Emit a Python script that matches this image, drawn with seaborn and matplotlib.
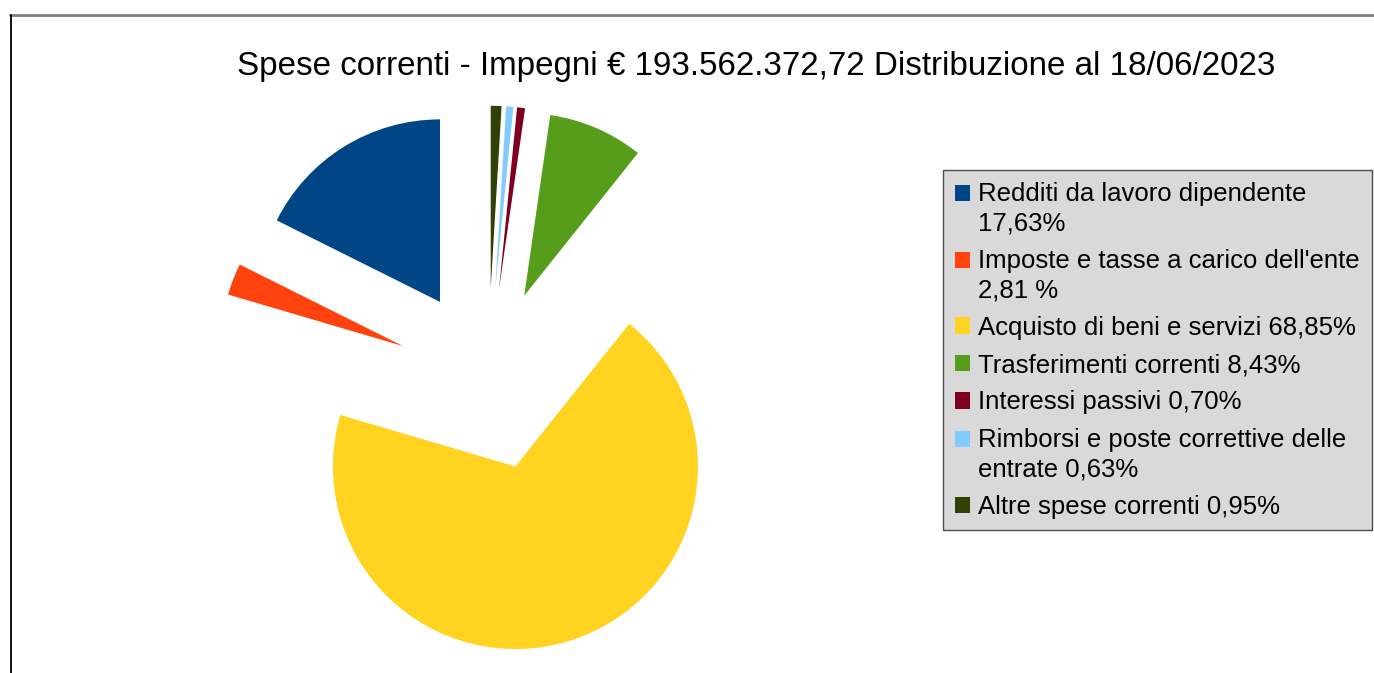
import matplotlib
matplotlib.use("Agg")
import matplotlib.pyplot as plt
import seaborn as sns
from matplotlib.patches import Patch, Rectangle
from matplotlib.lines import Line2D
from matplotlib.legend_handler import HandlerPatch

categories = [
    "Redditi da lavoro dipendente\n17,63%",
    "Imposte e tasse a carico dell'ente\n2,81 %",
    "Acquisto di beni e servizi 68,85%",
    "Trasferimenti correnti 8,43%",
    "Interessi passivi 0,70%",
    "Rimborsi e poste correttive delle\nentrate 0,63%",
    "Altre spese correnti 0,95%",
]
values = [17.63, 2.81, 68.85, 8.43, 0.70, 0.63, 0.95]
colors = ["#004586", "#ff420e", "#ffd320", "#579d1c", "#7e0021", "#83caff", "#314004"]
title = "Spese correnti - Impegni € 193.562.372,72 Distribuzione al 18/06/2023"

sns.set_theme(style="white")
plt.rcParams["font.family"] = ["Liberation Sans", "DejaVu Sans"]
plt.rcParams["text.color"] = "black"
palette = sns.color_palette(colors)

W, H = 1374, 673
fig = plt.figure(figsize=(W / 100, H / 100), dpi=100)
fig.patch.set_facecolor("white")
ax = fig.add_axes([0, 0, 1, 1])

R = 182.5
ax.pie(values, colors=palette, startangle=90, counterclock=True,
       radius=R, center=(488, H - 379.5), explode=[0.5 * R] * len(values),
       wedgeprops=dict(linewidth=0), frame=False)
ax.set_xlim(0, W)
ax.set_ylim(0, H)
ax.set_aspect("equal")
ax.axis("off")

# page border (top and left edges)
fig.add_artist(Line2D([10 / W, 1], [1 - 14.5 / H, 1 - 14.5 / H], color="#7f7f7f", lw=2,
                      transform=fig.transFigure))
fig.add_artist(Line2D([10.5 / W, 10.5 / W], [0, 1 - 14.5 / H], color="#000000", lw=1.3,
                      transform=fig.transFigure))

fig.text(756 / W, 1 - 66 / H, title, ha="center", va="center", fontsize=23.9, color="black")

FS = 18.5


def make_handler(two_lines):
    shift = 0.62 * FS if two_lines else 0.0

    def patch_func(legend, orig_handle, xdescent, ydescent, width, height, fontsize):
        return Rectangle((-xdescent, -ydescent + shift), width, height)
    return HandlerPatch(patch_func=patch_func)


handles = [Patch(facecolor=c, edgecolor="none") for c in palette]
hmap = {h: make_handler("\n" in lab) for h, lab in zip(handles, categories)}
leg = fig.legend(handles, categories, loc="upper left", handler_map=hmap,
                 bbox_to_anchor=(943 / W, 1 - 170 / H), fontsize=FS,
                 frameon=True, fancybox=False, framealpha=1,
                 facecolor="#d9d9d9", edgecolor="#4d4d4d",
                 handlelength=0.6, handleheight=0.6, handletextpad=0.33,
                 labelspacing=0.52, borderpad=0.45, borderaxespad=0)
leg.get_frame().set_linewidth(1.0)
for t in leg.get_texts():
    t.set_linespacing(1.3)

fig.savefig("out.png", dpi=100)
